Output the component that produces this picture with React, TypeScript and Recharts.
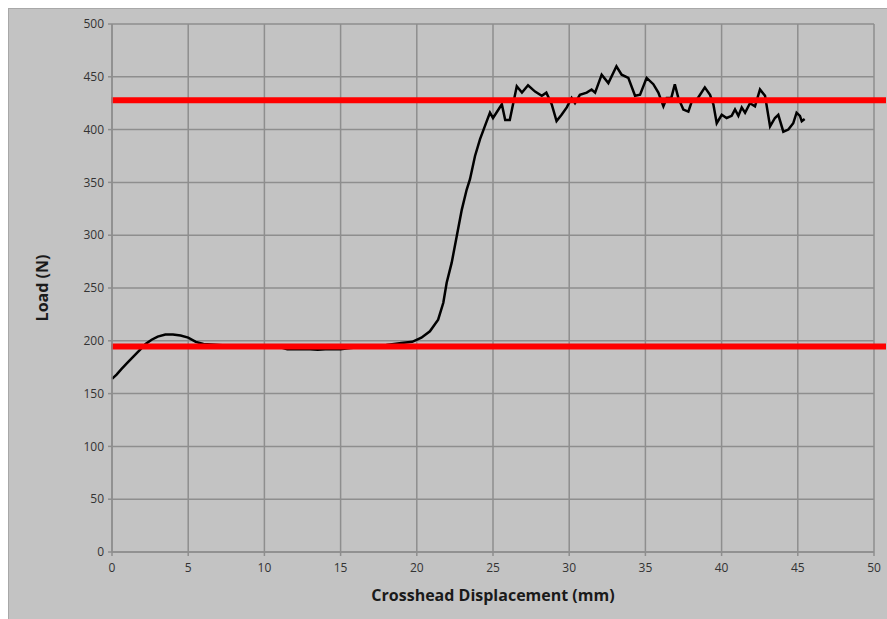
import React from 'react';
import { LineChart, Line, XAxis, YAxis, CartesianGrid, ReferenceLine } from 'recharts';

const displacement = [
  0, 0.3, 0.6, 1.0, 1.4, 1.8, 2.2, 2.6, 3.0, 3.5, 4.0, 4.5, 5.0, 5.5, 6.0, 7, 8, 9, 10, 11, 11.5, 12, 13, 13.5, 14, 15, 15.5, 17, 18, 19, 19.7, 20.3,
  20.86, 21.4, 21.74, 21.96, 22.29, 22.62, 22.95, 23.27, 23.49, 23.82, 24.15, 24.59, 24.8, 25.0, 25.58, 25.8, 26.1, 26.56, 26.9, 27.3,
  27.76, 28.2, 28.5, 28.85, 29.17, 29.5, 29.84, 30.16, 30.38, 30.7, 31.15, 31.47, 31.7, 32.13, 32.57, 33.1, 33.44, 33.88, 34.32, 34.65,
  35.08, 35.52, 35.85, 36.18, 36.4, 36.7, 36.93, 37.16, 37.49, 37.82, 38.05, 38.36, 38.9, 39.24, 39.46, 39.68, 40.01, 40.33, 40.66,
  40.88, 41.1, 41.32, 41.54, 41.86, 42.19, 42.52, 42.85, 43.18, 43.5, 43.72, 44.05, 44.38, 44.7, 44.92, 45.14, 45.26, 45.45,
];
const load = [
  164, 168, 173, 179, 185, 191, 197, 201, 204, 206, 206, 205, 203, 199, 197, 196, 195, 195, 195, 194, 192, 192, 192, 191.5, 192, 192, 193, 195, 196, 198, 199, 203,
  209, 220, 236, 255, 274, 299, 324, 343, 353, 375, 391, 408, 416, 411, 424, 409, 409, 441, 435, 442,
  436, 432, 435, 424, 408, 414, 421, 430, 425, 433, 435, 438, 435, 452, 444, 460, 452, 449, 432, 433,
  449, 443, 435, 422, 430, 430, 443, 430, 419, 417, 427, 428, 440, 433, 424, 406, 414, 411, 413,
  419, 413, 421, 416, 425, 422, 438, 432, 403, 411, 414, 398, 400, 406, 416, 413, 408, 410,
];
const xTicks = [0, 5, 10, 15, 20, 25, 30, 35, 40, 45, 50];
const yTicks = [0, 50, 100, 150, 200, 250, 300, 350, 400, 450, 500];
const upperLevel = 427.8;
const lowerLevel = 194.6;

const data = displacement.map((d, i) => ({ x: d, y: load[i] }));

const tickStyle = { fontFamily: 'Open Sans', fontSize: 12, fill: '#333333' };
const labelStyle = { fontFamily: 'Open Sans', fontSize: 16, fontWeight: 700, fill: '#1a1a1a' };

export default function App() {
  return (
    <div
      style={{
        position: 'absolute',
        left: 8,
        top: 8,
        width: 879,
        height: 611,
        background: '#c3c3c3',
        boxSizing: 'border-box',
        borderTop: '1px solid #a8a8a8',
        borderLeft: '1px solid #a8a8a8',
      }}
    >
      <LineChart
        width={878}
        height={610}
        data={data}
        margin={{ top: 16, right: 12, left: 0, bottom: 0 }}
        style={{ position: 'absolute', left: -1, top: -1 }}
      >
        <CartesianGrid stroke="#8e8e8e" strokeWidth={1.5} />
        <XAxis
          dataKey="x"
          type="number"
          domain={[0, 50]}
          ticks={xTicks}
          height={66}
          tickSize={4}
          tickMargin={7}
          stroke="#8e8e8e"
          strokeWidth={1.5}
          tick={tickStyle}
          label={{ value: 'Crosshead Displacement (mm)', position: 'insideBottom', offset: 17, style: labelStyle }}
        />
        <YAxis
          type="number"
          domain={[0, 500]}
          ticks={yTicks}
          width={104}
          tickSize={4}
          tickMargin={4}
          stroke="#8e8e8e"
          strokeWidth={1.5}
          tick={tickStyle}
          label={{ value: 'Load (N)', angle: -90, position: 'center', dx: -18, style: labelStyle }}
        />
        <Line
          dataKey="y"
          type="linear"
          stroke="#000000"
          strokeWidth={2.5}
          dot={false}
          isAnimationActive={false}
        />
        <ReferenceLine
          segment={[{ x: -0.05, y: upperLevel }, { x: 51.5, y: upperLevel }]}
          stroke="#ff0000"
          strokeWidth={6}
          ifOverflow="visible"
        />
        <ReferenceLine
          segment={[{ x: -0.05, y: lowerLevel }, { x: 51.5, y: lowerLevel }]}
          stroke="#ff0000"
          strokeWidth={6}
          ifOverflow="visible"
        />
      </LineChart>
    </div>
  );
}
